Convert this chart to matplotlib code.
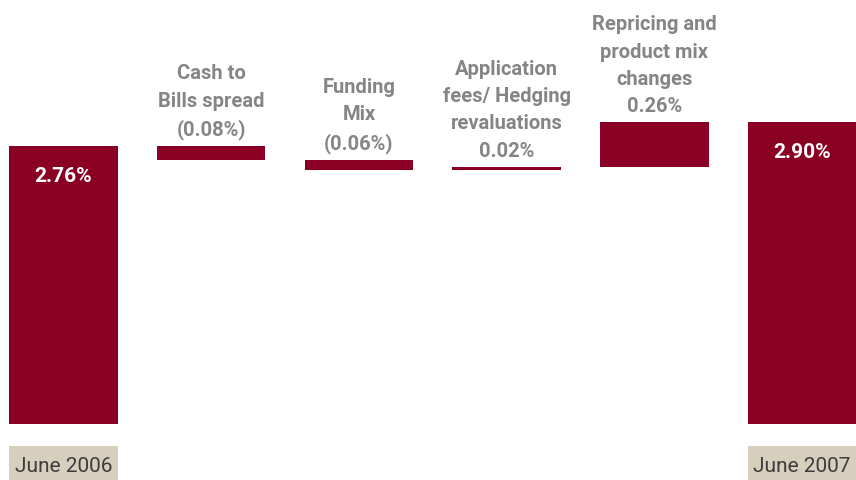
import matplotlib.pyplot as plt
from matplotlib.patches import Rectangle
import matplotlib.transforms as mtransforms

# margin bridge, June 2006 -> June 2007
labels = ['June 2006', 'Cash to\nBills spread', 'Funding\nMix',
          'Application\nfees/ Hedging\nrevaluations', 'Repricing and\nproduct mix\nchanges', 'June 2007']
changes = [-0.08, -0.06, 0.02, 0.26]
change_text = ['(0.08%)', '(0.06%)', '0.02%', '0.26%']
start_value = 2.76
end_value = 2.90

bar_color = '#8a0024'
box_color = '#d6cfbd'
grey_text = '#858585'
font = ['Roboto', 'DejaVu Sans']

fig = plt.figure(figsize=(8.56, 4.81), dpi=100)
ax = fig.add_axes([0, 56 / 481, 1, 425 / 481])

# running totals for the floating bars
bottoms = []
heights = []
level = start_value
for c in changes:
    if c < 0:
        bottoms.append(level + c)
        heights.append(-c)
    else:
        bottoms.append(level)
        heights.append(c)
    level += c

xs = list(range(len(labels)))
width = 0.735

ax.bar([0, 5], [start_value, end_value], width=width, color=bar_color)
ax.bar(xs[1:5], heights, bottom=bottoms, width=width, color=bar_color)

# axis is truncated so the small steps are visible
ax.set_ylim(1.135, 3.62)
ax.set_xlim(-0.43, 5.366)
ax.axis('off')

# totals inside the end bars
for x, v in [(0, start_value), (5, end_value)]:
    ax.annotate(f'{v:.2f}%', (x, v), xytext=(0, -21), textcoords='offset points',
                ha='center', va='center', color='white', fontsize=15, fontweight='bold',
                family=font)

# category labels over the floating bars
for i in range(4):
    top = bottoms[i] + heights[i]
    ax.annotate(labels[i + 1] + '\n' + change_text[i], (i + 1, top), xytext=(0, 5),
                textcoords='offset points', ha='center', va='bottom', color=grey_text,
                fontsize=14.5, fontweight='bold', linespacing=1.55, family=font)

# beige date boxes under the end bars
trans = mtransforms.blended_transform_factory(ax.transData, fig.transFigure)
for x in [0, 5]:
    ax.add_patch(Rectangle((x - width / 2, 0), width, 34 / 481, transform=trans,
                           facecolor=box_color, edgecolor='none', clip_on=False))
    ax.text(x, 14 / 481, labels[x], transform=trans, ha='center', va='center',
            fontsize=15, color='#3c3c3c', family=font)

plt.savefig('out.png', dpi=100)
